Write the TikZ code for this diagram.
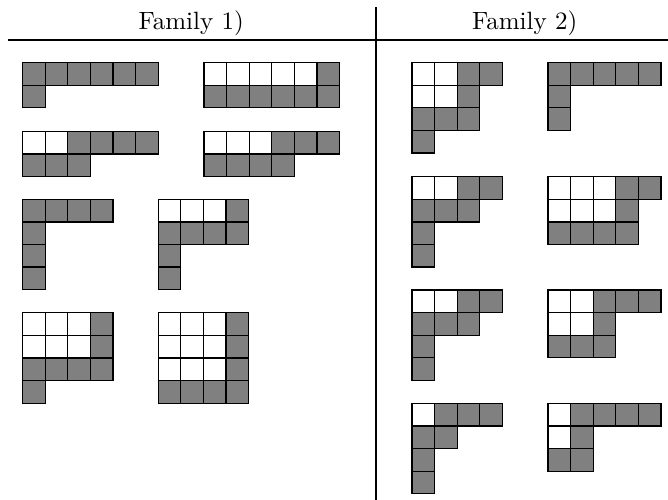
\documentclass[tikz,border=0pt]{standalone}
\usetikzlibrary{positioning}
\colorlet{sq0}{white}
\colorlet{sq1}{gray}
\tikzset{
 board/.style={line join=miter},
 sq/.style={draw=black,line width=.5pt},
 rule/.style={draw=black,line width=.8pt},
 famtitle/.style={anchor=base,inner sep=0pt}
}
% one polyomino: rows top to bottom, 0 = white, 1 = gray
\newcommand{\polyo}[3]{%
 \foreach \r [count=\j from 0] in {#3}
  \foreach \c [count=\i from 0] in \r
   \path[sq,fill=sq\c] (#1+\i,#2+\j) rectangle ++(1,1);}

\begin{document}
\begin{tikzpicture}[board,x=9.04pt,y=-9.04pt]
 \useasboundingbox (0,0) rectangle (29.56,22.12);
 \coordinate (hl) at (0.354,1.77); \coordinate (hr) at (29.56,1.77);
 \coordinate (vt) at (16.64,0.32); \coordinate (vb) at (16.64,22.12);
 \draw[rule] (hl)--(hr);
 \draw[rule] (vt)--(vb);
 \node[famtitle] (fam1) at (8.46,1.30) {Family 1)};
 \node[famtitle] (fam2) at (23.22,1.30) {Family 2)};
 % family 1
 \polyo{1}{2.77}{{1,1,1,1,1,1},{1}}
 \polyo{9.03}{2.77}{{0,0,0,0,0,1},{1,1,1,1,1,1}}
 \polyo{1}{5.81}{{0,0,1,1,1,1},{1,1,1}}
 \polyo{9.03}{5.81}{{0,0,0,1,1,1},{1,1,1,1}}
 \polyo{1}{8.82}{{1,1,1,1},{1},{1},{1}}
 \polyo{7}{8.82}{{0,0,0,1},{1,1,1,1},{1},{1}}
 \polyo{1}{13.84}{{0,0,0,1},{0,0,0,1},{1,1,1,1},{1}}
 \polyo{7}{13.84}{{0,0,0,1},{0,0,0,1},{0,0,0,1},{1,1,1,1}}
 % family 2
 \polyo{18.23}{2.77}{{0,0,1,1},{0,0,1},{1,1,1},{1}}
 \polyo{24.25}{2.77}{{1,1,1,1,1},{1},{1}}
 \polyo{18.23}{7.82}{{0,0,1,1},{1,1,1},{1},{1}}
 \polyo{24.25}{7.82}{{0,0,0,1,1},{0,0,0,1},{1,1,1,1}}
 \polyo{18.23}{12.83}{{0,0,1,1},{1,1,1},{1},{1}}
 \polyo{24.25}{12.83}{{0,0,1,1,1},{0,0,1},{1,1,1}}
 \polyo{18.23}{17.85}{{0,1,1,1},{1,1},{1},{1}}
 \polyo{24.25}{17.85}{{0,1,1,1,1},{0,1},{1,1}}
\end{tikzpicture}
\end{document}
